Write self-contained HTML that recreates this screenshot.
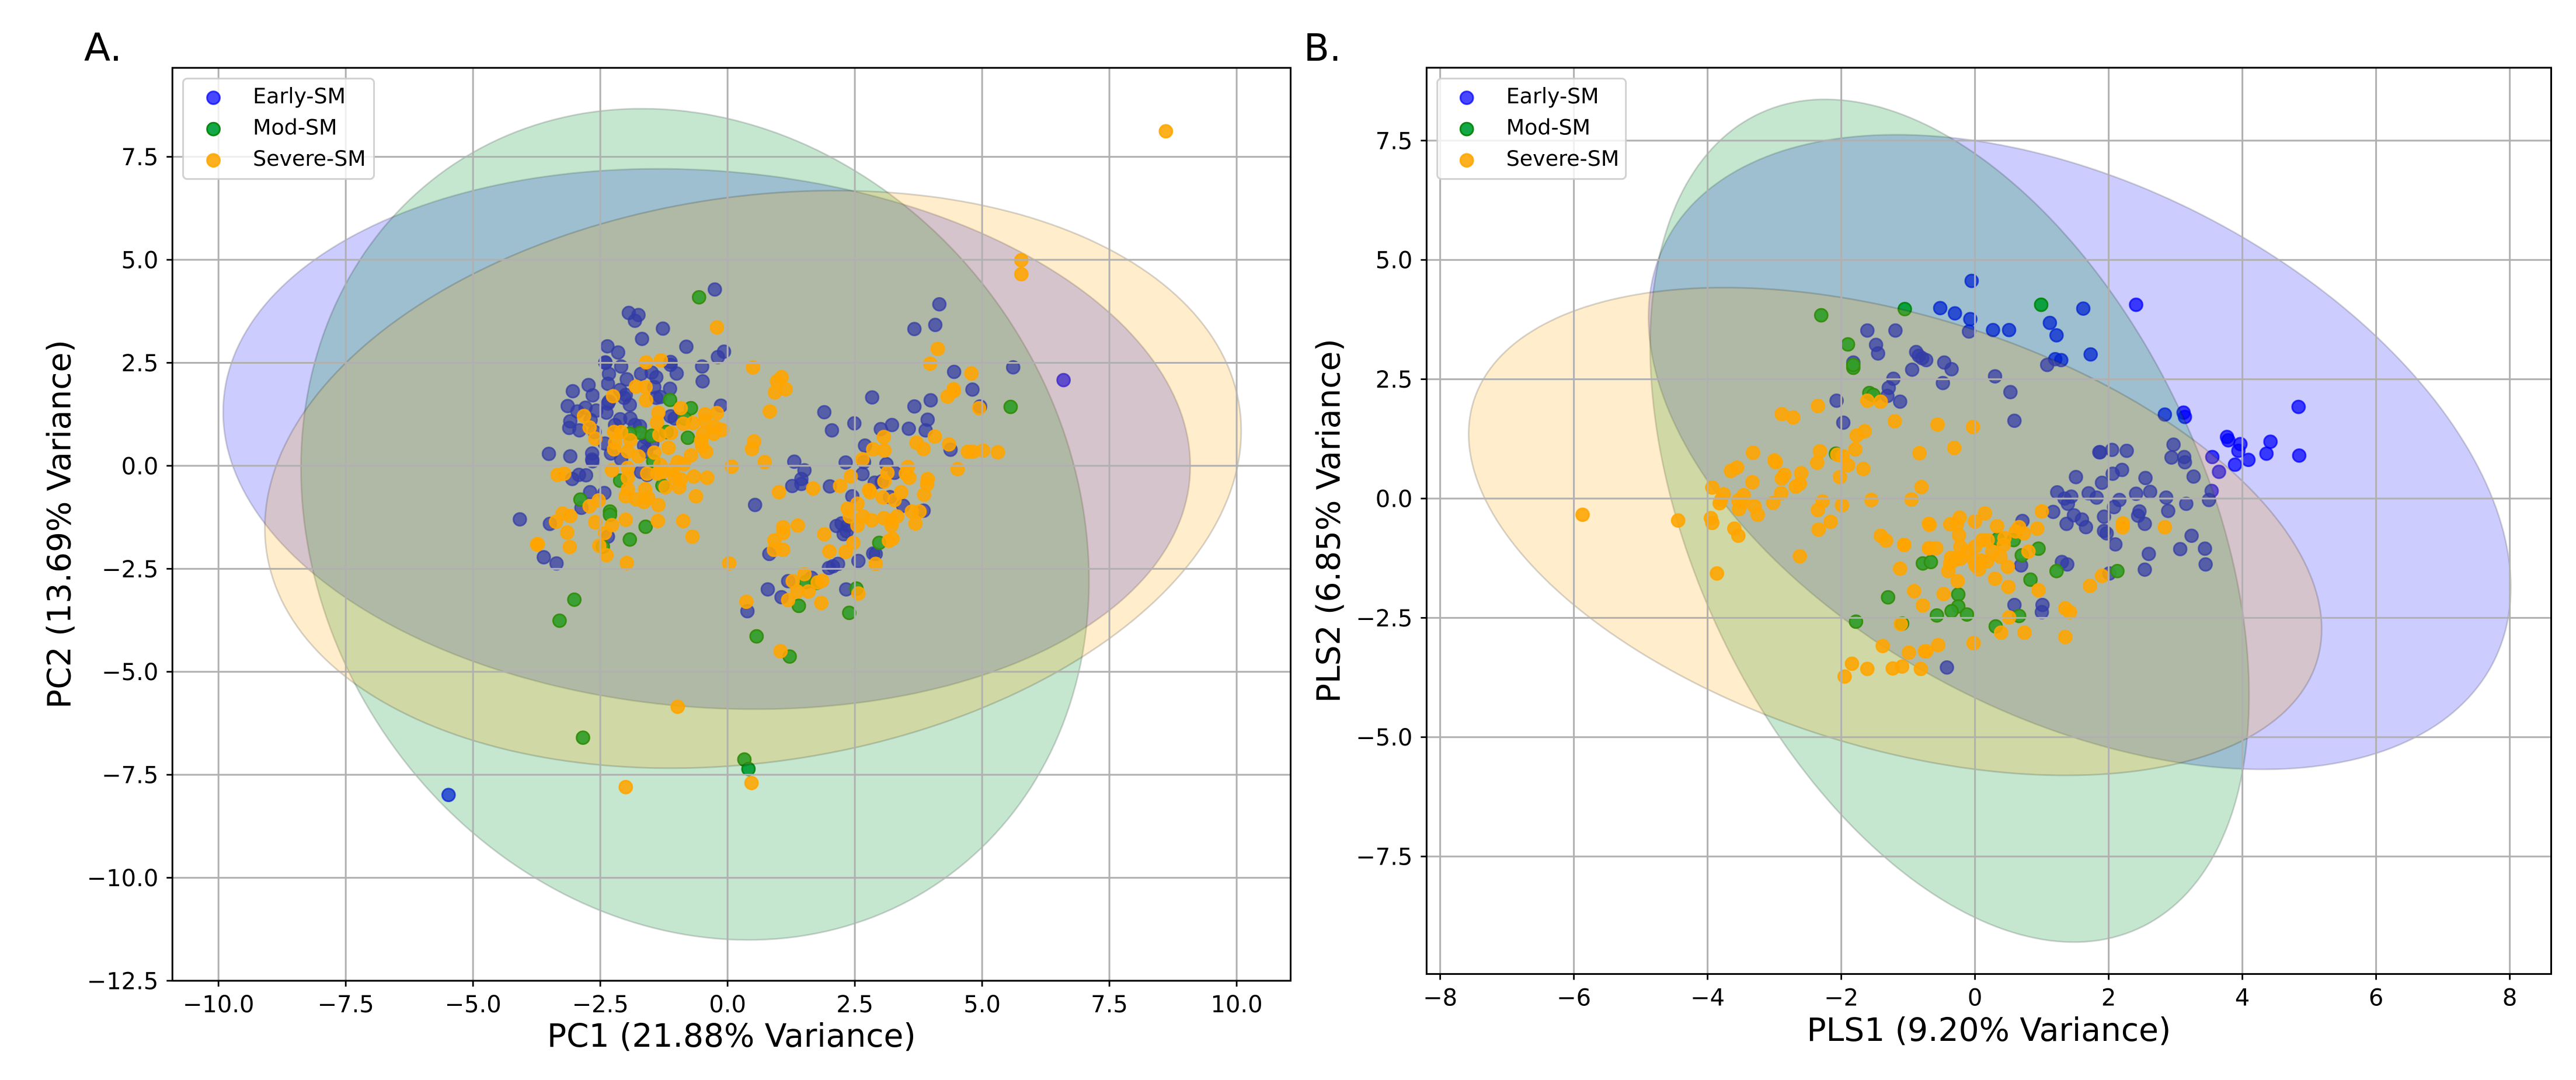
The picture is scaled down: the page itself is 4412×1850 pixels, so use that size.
<!DOCTYPE html>
<html>
<head>
<meta charset="utf-8">
<title>PCA and PLS score plots</title>
<style>
html,body{margin:0;padding:0;background:#fff}
svg{display:block}
text{font-family:"DejaVu Sans","Liberation Sans",sans-serif;fill:#000}
</style>
</head>
<body>
<svg id="figure" xmlns="http://www.w3.org/2000/svg" width="4412" height="1850" viewBox="0 0 4412 1850">
<rect x="0" y="0" width="4412" height="1850" fill="#fff"/>
<text x="144" y="104" font-size="66">A.</text>
<text x="2233" y="104" font-size="64">B.</text>
<g id="panelA"></g>
<g id="panelB"></g>
</svg>
<script>
const pcaEarly=[[-0.25,4.28],[-1.94,3.71],[-1.75,3.66],[-1.82,3.52],[-1.27,3.33],[-1.68,3.08],[-0.81,2.89],[-2.36,2.90],[-2.15,2.75],[-0.07,2.77],[-0.19,2.64],[-2.40,2.51],[-2.40,2.50],[-1.12,2.52],[-1.12,2.45],[-2.09,2.41],[-0.50,2.41],[-2.33,2.23],[-1.70,2.23],[-1.49,2.26],[-1.40,2.15],[-1.00,2.24],[-1.98,2.10],[-2.35,1.99],[-0.49,2.05],[-2.73,1.96],[-3.04,1.81],[-2.65,1.71],[-1.13,1.87],[-2.11,1.84],[-2.03,1.65],[-1.44,1.91],[-2.00,1.72],[-1.40,1.65],[-1.32,1.67],[-2.33,1.56],[-2.35,1.51],[-1.92,1.48],[-3.14,1.45],[-2.79,1.41],[-2.58,1.34],[-2.95,1.32],[-2.38,1.29],[-0.13,1.46],[-2.11,1.13],[-1.91,1.15],[-1.12,1.20],[-1.04,1.15],[-3.09,1.08],[-3.11,0.92],[-2.91,0.86],[-2.69,1.11],[-2.21,0.99],[-1.82,0.99],[-1.72,0.96],[-2.61,0.82],[-2.41,0.54],[-1.60,0.68],[-1.48,0.54],[-1.64,0.49],[-1.60,0.35],[-2.29,0.30],[-2.09,0.16],[-3.51,0.29],[-3.09,0.23],[-2.66,0.30],[-2.66,0.15],[-2.65,0.11],[-2.92,-0.22],[-3.05,-0.32],[-2.78,-0.23],[-1.70,-0.15],[-1.58,-0.22],[-2.70,-0.64],[-2.42,-0.66],[-2.87,-1.02],[-4.08,-1.30],[-3.49,-1.41],[-2.35,-1.72],[-3.61,-2.22],[-3.36,-2.37],[-5.48,-7.99],[6.60,2.08],[5.61,2.39],[4.16,3.92],[4.08,3.42],[3.67,3.32],[4.45,2.28],[4.81,1.85],[2.84,1.66],[3.67,1.44],[3.99,1.59],[4.96,1.44],[1.90,1.30],[2.05,0.86],[2.49,1.03],[3.01,0.89],[3.23,0.99],[3.56,0.90],[3.93,1.12],[3.89,0.86],[2.70,0.49],[4.38,0.39],[1.31,0.10],[1.51,-0.11],[2.32,0.08],[2.68,0.09],[3.12,0.04],[1.45,-0.32],[1.45,-0.44],[1.27,-0.49],[2.65,-0.20],[3.28,-0.17],[2.89,-0.41],[3.03,-0.38],[2.01,-0.50],[0.54,-0.95],[2.45,-0.74],[3.19,-0.76],[3.45,-0.97],[3.85,-1.09],[2.14,-1.46],[2.24,-1.40],[2.36,-1.45],[2.28,-1.66],[2.34,-1.59],[0.82,-2.14],[2.86,-2.13],[2.91,-2.14],[2.57,-2.31],[2.17,-2.38],[2.07,-2.44],[1.99,-2.48],[1.19,-2.80],[1.65,-2.72],[0.79,-3.00],[2.33,-3.00],[1.06,-3.19],[0.39,-3.53]];
const pcaMod=[[-0.56,4.09],[-1.13,1.60],[-0.72,1.40],[-0.78,0.68],[-1.71,0.80],[-1.49,0.73],[-1.92,0.78],[-1.20,0.82],[-0.84,1.15],[-1.46,0.11],[-2.11,-0.36],[-1.28,-0.48],[-2.89,-0.82],[-2.31,-1.11],[-2.31,-1.19],[-1.61,-1.48],[-1.92,-1.79],[-2.45,-1.96],[-3.01,-3.25],[-3.30,-3.76],[-2.84,-6.60],[5.56,1.43],[2.98,-1.87],[1.54,-2.82],[1.75,-2.84],[2.53,-2.98],[1.40,-3.40],[2.39,-3.57],[1.22,-4.63],[0.57,-4.14],[0.33,-7.13],[0.41,-7.36]];
const pcaSevere=[[-0.21,3.36],[-1.60,2.51],[-1.31,2.56],[0.50,2.39],[-1.80,1.92],[-1.61,1.91],[-2.25,1.69],[-1.60,1.59],[-0.92,1.40],[-1.36,1.29],[-1.39,1.05],[-0.87,1.02],[-0.68,1.04],[-2.82,1.21],[-2.71,0.93],[-2.60,0.66],[-0.44,1.25],[-0.21,1.28],[-0.44,1.08],[-2.23,0.82],[-2.09,0.82],[-0.25,0.94],[-0.11,0.87],[-0.27,0.78],[-0.48,0.78],[-1.34,0.75],[-1.11,0.80],[-1.91,0.62],[-2.21,0.56],[-2.23,0.40],[-0.52,0.61],[-0.50,0.47],[-0.42,0.34],[-1.16,0.44],[-1.44,0.32],[-1.96,0.35],[-1.75,0.23],[-0.72,0.25],[-0.98,0.09],[-0.86,0.04],[0.08,-0.02],[-1.32,0.02],[-1.96,-0.05],[-2.27,-0.11],[-3.34,-0.22],[-3.21,-0.19],[-1.58,-0.19],[-1.38,-0.19],[-1.28,-0.15],[-1.08,-0.10],[-1.04,-0.26],[-0.92,-0.33],[-0.66,-0.26],[-0.40,-0.29],[-1.96,-0.29],[-1.22,-0.52],[-0.95,-0.52],[-0.62,-0.74],[-1.96,-0.57],[-1.62,-0.57],[-2.00,-0.74],[-1.80,-0.81],[-1.64,-0.88],[-1.56,-0.78],[-1.36,-0.95],[-2.53,-0.84],[-2.71,-0.98],[-3.24,-1.16],[-3.09,-1.22],[-3.37,-1.36],[-2.00,-1.31],[-2.60,-1.37],[-2.27,-1.44],[-1.37,-1.34],[-0.87,-1.34],[-0.69,-1.72],[-2.41,-1.63],[-3.15,-1.62],[-3.73,-1.90],[-3.10,-1.97],[-2.52,-1.94],[-2.38,-2.17],[-3.74,-1.91],[-1.98,-2.36],[-2.00,-7.80],[8.61,8.12],[5.77,4.99],[5.77,4.65],[4.13,2.84],[3.98,2.48],[1.06,2.15],[0.97,2.05],[1.14,1.86],[0.93,1.78],[0.83,1.32],[0.52,0.59],[0.48,0.41],[0.73,0.09],[4.79,2.24],[4.44,1.86],[4.44,1.81],[4.32,1.68],[4.94,1.40],[3.07,0.70],[3.08,0.37],[2.86,0.40],[2.65,0.16],[3.71,0.56],[3.85,0.41],[4.07,0.71],[4.35,0.52],[4.72,0.34],[4.82,0.34],[5.02,0.37],[5.31,0.33],[4.52,-0.08],[3.54,-0.03],[3.50,-0.19],[3.57,-0.29],[3.93,-0.32],[3.92,-0.45],[3.86,-0.70],[3.14,-0.17],[3.08,-0.38],[2.42,-0.26],[2.21,-0.49],[1.68,-0.55],[1.01,-0.64],[2.78,-0.59],[2.80,-0.64],[3.05,-0.77],[3.41,-0.64],[3.28,-0.83],[2.55,-0.92],[2.36,-1.04],[2.40,-1.23],[2.66,-1.23],[2.83,-1.32],[2.55,-1.45],[3.07,-1.27],[3.33,-1.23],[3.22,-1.33],[3.22,-1.45],[3.62,-1.11],[3.77,-1.11],[3.69,-1.40],[1.38,-1.45],[1.09,-1.49],[1.09,-1.63],[1.90,-1.66],[0.92,-1.81],[0.91,-2.04],[1.09,-2.04],[2.47,-1.87],[2.00,-2.08],[2.32,-2.09],[3.24,-1.77],[3.17,-1.82],[2.91,-2.38],[1.51,-2.63],[1.28,-2.80],[1.86,-2.79],[1.77,-2.83],[1.37,-3.05],[1.59,-3.05],[1.19,-3.26],[1.84,-3.33],[0.37,-3.30],[2.57,-3.10],[0.03,-2.37],[1.04,-4.50],[-0.98,-5.85],[0.47,-7.70]];

const plsEarly=[[-0.05,4.56],[-0.52,3.99],[-0.30,3.88],[-0.07,3.76],[-0.09,3.50],[0.27,3.53],[0.51,3.53],[1.12,3.68],[1.22,3.42],[1.62,3.98],[2.41,4.06],[1.73,3.02],[1.20,2.92],[1.29,2.90],[1.08,2.80],[-0.73,2.90],[-0.46,2.85],[-0.35,2.71],[-0.48,2.42],[0.30,2.56],[0.53,2.23],[0.59,1.63],[2.84,1.76],[3.12,1.80],[3.14,1.71],[4.84,1.92],[3.77,1.29],[3.79,1.22],[3.97,1.14],[3.94,1.00],[4.42,1.19],[4.36,0.94],[4.85,0.90],[4.09,0.81],[3.89,0.71],[3.55,0.87],[3.65,0.56],[2.97,1.13],[2.94,0.86],[3.13,0.87],[3.14,0.76],[3.27,0.46],[3.54,0.16],[3.50,-0.03],[1.87,0.97],[1.86,0.97],[2.05,1.02],[2.27,1.00],[2.20,0.60],[2.06,0.52],[1.90,0.33],[1.51,0.45],[2.55,0.43],[1.23,0.13],[1.44,0.04],[1.34,0.00],[1.39,-0.11],[1.70,0.11],[1.82,0.02],[2.16,-0.03],[2.08,-0.18],[2.41,0.10],[2.62,0.14],[2.86,0.02],[2.89,-0.26],[3.16,-0.11],[1.17,-0.28],[1.48,-0.35],[1.60,-0.44],[1.66,-0.60],[1.37,-0.53],[1.93,-0.38],[2.46,-0.27],[2.44,-0.36],[2.54,-0.53],[3.24,-0.78],[0.71,-0.47],[1.93,-0.68],[1.97,-0.73],[2.10,-0.96],[3.07,-1.06],[3.44,-1.05],[3.45,-1.38],[2.60,-1.16],[2.54,-1.49],[2.01,-1.57],[1.30,-1.33],[1.38,-1.38],[0.69,-1.40],[0.59,-2.23],[1.01,-2.23],[1.00,-2.38],[-0.42,-3.54],[-1.61,3.52],[-1.19,3.52],[-1.48,3.22],[-1.45,3.04],[-0.88,3.07],[-0.84,2.99],[-0.79,2.94],[-0.94,2.70],[-1.82,2.85],[-1.22,2.51],[-1.29,2.32],[-1.31,2.15],[-1.12,2.03],[-2.07,2.05],[-1.97,1.59]];
const plsMod=[[-2.30,3.84],[-1.05,3.97],[0.99,4.06],[-1.90,3.23],[-1.82,2.74],[-1.82,2.80],[-1.58,2.21],[-1.52,2.17],[-2.08,0.94],[-1.30,-2.07],[-1.78,-2.58],[-1.09,-2.62],[-0.78,-1.36],[-0.66,-1.33],[0.34,-0.85],[0.58,-0.87],[0.95,-1.05],[0.70,-1.19],[1.22,-1.52],[2.13,-1.52],[0.83,-1.70],[-0.25,-2.01],[-0.25,-2.26],[-0.35,-2.36],[-0.12,-2.43],[-0.57,-2.45],[0.66,-2.46],[0.31,-2.68]];
const plsSevere=[[-5.87,-0.34],[-2.35,1.94],[-2.89,1.77],[-2.72,1.70],[-1.61,2.05],[-1.41,2.03],[-1.20,1.62],[-1.65,1.41],[-1.77,1.32],[-1.79,1.03],[-2.06,0.92],[-1.98,0.89],[-1.90,0.70],[-1.67,0.62],[-0.83,0.95],[-2.32,0.99],[-2.36,0.75],[-2.02,0.45],[-3.32,0.96],[-3.56,0.65],[-3.65,0.58],[-3.00,0.80],[-2.98,0.76],[-3.33,0.34],[-2.85,0.50],[-2.89,0.42],[-2.60,0.53],[-2.62,0.31],[-2.68,0.25],[-2.90,0.11],[-3.93,0.23],[-3.76,0.09],[-3.46,0.07],[-3.80,-0.03],[-3.82,-0.10],[-3.54,-0.04],[-3.47,-0.08],[-3.53,-0.22],[-3.30,-0.16],[-3.25,-0.34],[-3.02,-0.09],[-2.28,-0.06],[-2.35,-0.24],[-1.99,-0.14],[-1.55,-0.03],[-0.95,-0.02],[-0.80,0.24],[-2.16,-0.49],[-2.34,-0.65],[-3.95,-0.41],[-3.93,-0.51],[-4.44,-0.46],[-3.60,-0.63],[-3.54,-0.78],[-2.62,-1.21],[-3.86,-1.57],[-1.41,-0.78],[-1.33,-0.88],[-1.06,-0.97],[-0.69,-0.53],[-0.69,-1.04],[-1.12,-1.47],[-0.91,-1.94],[-0.78,-2.24],[-1.11,-2.63],[-1.38,-3.09],[-0.99,-3.23],[-0.75,-3.20],[-1.84,-3.46],[-1.61,-3.57],[-1.23,-3.56],[-1.09,-3.52],[-0.81,-3.57],[-1.95,-3.73],[-0.56,1.55],[-0.03,1.50],[-0.31,1.06],[1.00,-0.27],[0.15,-0.31],[-0.23,-0.40],[0.00,-0.48],[-0.37,-0.54],[-0.68,-0.55],[-0.27,-0.54],[0.33,-0.58],[0.66,-0.60],[0.61,-0.69],[0.73,-0.73],[0.93,-0.63],[2.21,-0.52],[2.21,-0.60],[2.84,-0.60],[-0.24,-0.77],[-1.06,-0.97],[-0.68,-1.04],[-0.58,-1.04],[0.11,-0.87],[0.19,-0.87],[0.44,-0.83],[0.43,-0.97],[0.00,-1.01],[-0.22,-1.01],[-0.12,-1.11],[-0.36,-1.24],[-0.22,-1.26],[-0.37,-1.36],[-0.29,-1.28],[0.80,-1.11],[0.26,-1.11],[0.38,-1.22],[-0.02,-1.28],[0.09,-1.30],[0.01,-1.40],[0.18,-1.32],[0.06,-1.48],[-0.40,-1.52],[0.49,-1.43],[0.30,-1.68],[0.50,-1.85],[-0.26,-1.73],[0.95,-1.92],[-0.47,-2.00],[1.90,-1.62],[1.72,-1.83],[1.35,-2.30],[1.42,-2.38],[0.51,-2.49],[0.39,-2.81],[0.74,-2.81],[1.35,-2.90],[-0.02,-3.03],[-0.55,-3.07],[-0.73,-3.20]];

/* confidence ellipses: [centre x, centre y, half-extent x, half-extent y, correlation] */
const pcaEllipseEarly=[-0.41,0.65,9.50,6.56,-0.10];
const pcaEllipseMod=[-0.64,-1.42,7.74,10.09,-0.135];
const pcaEllipseSevere=[0.50,-0.33,9.59,7.01,0.168];
const plsEllipseEarly=[1.565,0.974,6.45,6.65,-0.425];
const plsEllipseMod=[-0.38,-0.465,4.48,8.83,-0.415];
const plsEllipseSevere=[-1.194,-0.69,6.38,5.11,-0.40];

const pcaXTicks=[-10,-7.5,-5,-2.5,0,2.5,5,7.5,10];
const pcaXLabels=["\u221210.0","\u22127.5","\u22125.0","\u22122.5","0.0","2.5","5.0","7.5","10.0"];
const pcaYTicks=[-12.5,-10,-7.5,-5,-2.5,0,2.5,5,7.5];
const pcaYLabels=["\u221212.5","\u221210.0","\u22127.5","\u22125.0","\u22122.5","0.0","2.5","5.0","7.5"];
const plsXTicks=[-8,-6,-4,-2,0,2,4,6,8];
const plsXLabels=["\u22128","\u22126","\u22124","\u22122","0","2","4","6","8"];
const plsYTicks=[-7.5,-5,-2.5,0,2.5,5,7.5];
const plsYLabels=["\u22127.5","\u22125.0","\u22122.5","0.0","2.5","5.0","7.5"];
const seriesNames=["Early-SM","Mod-SM","Severe-SM"];

const NS="http://www.w3.org/2000/svg";
const styles=[
  {fill:"rgb(0,0,255)",stroke:"rgb(0,0,255)",fo:0.72,so:0.72,ell:"rgb(0,0,255)",ea:0.2},
  {fill:"rgb(0,160,55)",stroke:"rgb(0,130,0)",fo:0.92,so:0.92,ell:"rgb(0,150,48)",ea:0.227},
  {fill:"rgb(255,165,0)",stroke:"rgb(255,165,0)",fo:0.88,so:0.88,ell:"rgb(255,165,0)",ea:0.2}
];
function make(tag,parent,attrs){
  const e=document.createElementNS(NS,tag);
  for(const k in attrs)e.setAttribute(k,attrs[k]);
  parent.appendChild(e);
  return e;
}
function dot(parent,cx,cy,s){
  const c=make("circle",parent,{cx:cx,cy:cy,r:11,fill:s.fill,"fill-opacity":s.fo,stroke:s.stroke,"stroke-opacity":s.so,"stroke-width":2.8});
  return c;
}
function drawPanel(cfg){
  const root=document.getElementById(cfg.id);
  const xS=v=>cfg.left+(v-cfg.xDom[0])/(cfg.xDom[1]-cfg.xDom[0])*(cfg.right-cfg.left);
  const yS=v=>cfg.bottom-(v-cfg.yDom[0])/(cfg.yDom[1]-cfg.yDom[0])*(cfg.bottom-cfg.top);

  cfg.series.forEach((pts,i)=>{
    const s=styles[i];
    const g=make("g",root,{});
    
    
    pts.forEach(p=>{
      const c=dot(g,xS(p[0]),yS(p[1]),s);
      
      
    });
    const E=cfg.ellipses[i];
    const q=Math.sqrt(1-E[4]*E[4]);
    let d="";
    for(let k=0;k<240;k++){
      const t=k/240*2*Math.PI;
      const dx=E[0]+E[2]*Math.cos(t);
      const dy=E[1]+E[3]*(E[4]*Math.cos(t)+q*Math.sin(t));
      d+=(k?"L":"M")+xS(dx).toFixed(1)+" "+yS(dy).toFixed(1);
    }
    const el=make("path",root,{d:d+"Z",fill:s.ell,"fill-opacity":s.ea,stroke:"#000","stroke-opacity":0.16,"stroke-width":2.8});
    
    
  });

  const grid=make("g",root,{stroke:"#b0b0b0","stroke-width":3});
  
  
  cfg.xTicks.forEach(v=>{
    const l=make("line",grid,{x1:xS(v),x2:xS(v),y1:cfg.top,y2:cfg.bottom});
    
    
  });
  cfg.yTicks.forEach(v=>{
    const l=make("line",grid,{x1:cfg.left,x2:cfg.right,y1:yS(v),y2:yS(v)});
    
    
  });

  const ticks=make("g",root,{stroke:"#000","stroke-width":2.8});
  
  
  cfg.xTicks.forEach((v,i)=>{
    const l=make("line",ticks,{x1:xS(v),x2:xS(v),y1:cfg.bottom,y2:cfg.bottom+10});
    
    
    const t=make("text",root,{x:xS(v),y:cfg.xTickBase,"text-anchor":"middle","font-size":40});
    t.textContent=cfg.xLabels[i];
    
    
  });
  cfg.yTicks.forEach((v,i)=>{
    const l=make("line",ticks,{x1:cfg.left-10,x2:cfg.left,y1:yS(v),y2:yS(v)});
    
    
    const t=make("text",root,{x:cfg.left-24,y:yS(v)+14.5,"text-anchor":"end","font-size":40});
    t.textContent=cfg.yLabels[i];
    
    
  });

  const frame=make("rect",root,{x:cfg.left,y:cfg.top,width:cfg.right-cfg.left,height:cfg.bottom-cfg.top,fill:"none",stroke:"#000","stroke-width":3});
  
  

  const xt=make("text",root,{x:(cfg.left+cfg.right)/2,y:cfg.xTitleBase,"text-anchor":"middle","font-size":55});
  xt.textContent=cfg.xTitle;
  
  
  const yMid=(cfg.top+cfg.bottom)/2;
  const yt=make("text",root,{x:cfg.yTitleX,y:yMid,"text-anchor":"middle","font-size":55,transform:"rotate(-90 "+cfg.yTitleX+" "+yMid+")"});
  yt.textContent=cfg.yTitle;
  
  

  const lg=make("g",root,{});
  
  
  const box=make("rect",lg,{x:cfg.legX,y:134.6,width:cfg.legW,height:172,rx:7,ry:7,fill:"#fff","fill-opacity":0.8,stroke:"#ccc","stroke-opacity":0.9,"stroke-width":3});
  
  
  seriesNames.forEach((n,i)=>{
    const cy=167.5+i*53.6;
    const m=dot(lg,cfg.legX+cfg.legMarker,cy,styles[i]);
    
    
    const t=make("text",lg,{x:cfg.legX+cfg.legText,y:cy+9.5,"font-size":36.4});
    t.textContent=n;
    
    
  });
}
drawPanel({id:"panelA",left:295.3,right:2210.5,top:116.2,bottom:1680,xDom:[-10.905,11.06],yDom:[-12.5,9.66],
  series:[pcaEarly,pcaMod,pcaSevere],ellipses:[pcaEllipseEarly,pcaEllipseMod,pcaEllipseSevere],
  xTicks:pcaXTicks,xLabels:pcaXLabels,yTicks:pcaYTicks,yLabels:pcaYLabels,
  xTickBase:1734,xTitleBase:1793,xTitle:"PC1 (21.88% Variance)",yTitleX:120.5,yTitle:"PC2 (13.69% Variance)",
  legX:313.6,legW:327,legMarker:52,legText:119.5});
drawPanel({id:"panelB",left:2443.4,right:4369.5,top:116,bottom:1668.4,xDom:[-8.203,8.619],yDom:[-9.962,9.027],
  series:[plsEarly,plsMod,plsSevere],ellipses:[plsEllipseEarly,plsEllipseMod,plsEllipseSevere],
  xTicks:plsXTicks,xLabels:plsXLabels,yTicks:plsYTicks,yLabels:plsYLabels,
  xTickBase:1722.5,xTitleBase:1783,xTitle:"PLS1 (9.20% Variance)",yTitleX:2294.5,yTitle:"PLS2 (6.85% Variance)",
  legX:2461.7,legW:323,legMarker:50.5,legText:118});
</script>
</body>
</html>
